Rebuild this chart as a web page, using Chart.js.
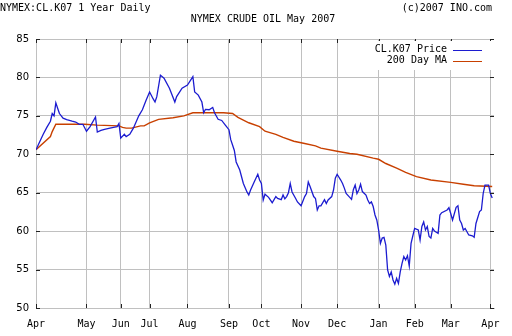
<!DOCTYPE html>
<html lang="en">
<head>
    <meta charset="UTF-8">
    <title>NYMEX CRUDE OIL May 2007</title>
    <script src="https://cdn.jsdelivr.net/npm/chart.js"></script>
    <style>
        body { margin: 0; padding: 0; background: #fff; }
        #chart { display: block; }
    </style>
</head>
<body>
    <canvas id="chart" width="512" height="336"></canvas>

    <script>
        // month ticks, by trading day
        const monthLabels = ['Apr', 'May', 'Jun', 'Jul', 'Aug', 'Sep', 'Oct', 'Nov', 'Dec', 'Jan', 'Feb', 'Mar', 'Apr'];
        const monthDays = [0, 28, 47, 63, 84, 107, 125, 147, 167, 190, 210, 230, 252];

        // price axis
        const yMin = 50;
        const yMax = 85;
        const yStep = 5;

        // CL.K07 daily price (trading day, value)
        const priceDays = [0, 2, 4, 6, 8, 9, 10, 11, 12, 13, 15, 17, 20, 22, 24, 26, 28, 30, 33, 34, 36, 38, 41, 43, 45, 46, 47, 49, 50, 52,
            54, 57, 59, 61, 63, 65, 66, 67, 69, 71, 74, 77, 78, 81, 84, 87, 88, 90, 92, 93, 94, 96, 98, 99, 101, 103, 105, 107, 108, 109,
            110, 111, 113, 115, 117, 118, 119, 121, 123, 124, 125, 126, 127, 129, 131, 133, 134, 136, 137, 138, 139, 140, 141, 142, 144, 145, 147, 149, 150, 151,
            152, 154, 155, 156, 157, 158, 160, 161, 162, 164, 165, 166, 167, 169, 170, 171, 172, 174, 175, 176, 177, 178, 179, 180, 181, 183, 184, 185, 186, 187,
            188, 189, 190, 191, 192, 193, 194, 195, 196, 197, 198, 199, 200, 201, 202, 203, 204, 205, 206, 207, 208, 209, 210, 212, 213, 214, 215, 216, 217, 218,
            219, 220, 221, 223, 224, 225, 228, 229, 230, 231, 233, 234, 235, 236, 237, 238, 240, 242, 243, 244, 246, 247, 248, 249, 251, 252, 253];
        const priceValues = [70.6, 71.6, 72.6, 73.5, 74.3, 75.3, 75.0, 76.7, 76.0, 75.3, 74.7, 74.5, 74.3, 74.2, 73.9, 73.9, 73.0, 73.6, 74.85, 72.9, 73.1, 73.25, 73.4, 73.5, 73.6, 74.0, 72.1, 72.6, 72.3, 72.6,
            73.4, 75.0, 75.8, 77.0, 78.1, 77.2, 76.8, 77.5, 80.3, 79.9, 78.6, 76.8, 77.5, 78.6, 79.0, 80.1, 78.1, 77.7, 76.8, 75.4, 75.85, 75.8, 76.1, 75.4, 74.55, 74.4, 73.8, 73.2, 71.9, 71.2,
            70.5, 69.0, 67.95, 66.2, 65.1, 64.7, 65.35, 66.4, 67.4, 66.65, 66.2, 64.05, 64.8, 64.4, 63.7, 64.5, 64.25, 64.1, 64.7, 64.2, 64.5, 65.0, 66.2, 65.1, 64.25, 63.8, 63.3, 64.5, 64.9, 66.4,
            65.8, 64.5, 64.25, 62.75, 63.3, 63.3, 64.1, 63.6, 64.05, 64.5, 65.35, 66.9, 67.4, 66.65, 66.2, 65.6, 64.9, 64.4, 64.15, 65.4, 66.0, 64.9, 65.35, 66.1, 65.15, 64.7, 64.05, 63.6, 63.8, 63.2,
            62.1, 61.45, 60.15, 58.4, 59.1, 59.2, 58.2, 54.95, 54.1, 54.7, 53.65, 53.1, 53.85, 53.2, 54.7, 55.8, 56.7, 56.25, 56.8, 55.45, 58.4, 59.4, 60.35, 60.15, 58.85, 60.6, 61.2, 60.15, 60.6, 59.3,
            59.1, 60.35, 60.0, 59.7, 62.1, 62.4, 62.75, 63.05, 62.3, 61.45, 63.1, 63.3, 61.45, 61.0, 60.15, 60.35, 59.5, 59.4, 59.2, 61.0, 62.55, 62.75, 64.9, 66.0, 66.0, 64.9, 64.3];

        // 200 day moving average
        const maDays = [0, 8, 9, 11, 27, 34, 46, 48, 50, 53, 58, 60, 63, 68, 76, 82, 87, 104, 109, 112, 118, 124, 127, 133, 137, 143, 149, 155, 158, 167,
            174, 178, 187, 190, 194, 200, 205, 211, 219, 230, 237, 243, 253];
        const maValues = [70.6, 72.3, 72.95, 73.9, 73.9, 73.8, 73.7, 73.5, 73.4, 73.4, 73.7, 73.7, 74.1, 74.55, 74.75, 75.0, 75.4, 75.4, 75.3, 74.8, 74.1, 73.6, 73.0, 72.6, 72.2, 71.7, 71.4, 71.1, 70.8, 70.4,
            70.1, 70.0, 69.5, 69.35, 68.8, 68.2, 67.65, 67.1, 66.65, 66.35, 66.1, 65.9, 65.8];

        const mono = '"DejaVu Sans Mono", monospace';

        // header texts
        const headerPlugin = {
            id: 'header',
            afterDraw(chart) {
                const ctx = chart.ctx;
                ctx.save();
                ctx.fillStyle = '#000';
                ctx.font = '10px ' + mono;
                ctx.textBaseline = 'middle';
                ctx.textAlign = 'left';
                ctx.fillText('NYMEX:CL.K07 1 Year Daily', 0, 8);
                ctx.textAlign = 'right';
                ctx.fillText('(c)2007 INO.com', 492, 8);
                ctx.textAlign = 'center';
                ctx.fillText('NYMEX CRUDE OIL May 2007', 263, 19);
                ctx.restore();
            }
        };

        // short dark tick marks inside the frame
        const tickMarkPlugin = {
            id: 'tickMarks',
            afterDatasetsDraw(chart) {
                const ctx = chart.ctx;
                const area = chart.chartArea;
                const xs = chart.scales.x;
                const ys = chart.scales.y;
                ctx.save();
                ctx.strokeStyle = '#222';
                ctx.lineWidth = 1;
                ctx.beginPath();
                ys.ticks.forEach(t => {
                    const y = Math.round(ys.getPixelForValue(t.value)) + 0.5;
                    ctx.moveTo(area.left, y);
                    ctx.lineTo(area.left + 4, y);
                    ctx.moveTo(area.right - 4, y);
                    ctx.lineTo(area.right, y);
                });
                xs.ticks.forEach(t => {
                    const x = Math.round(xs.getPixelForValue(t.value)) + 0.5;
                    ctx.moveTo(x, area.bottom);
                    ctx.lineTo(x, area.bottom - 4);
                    ctx.moveTo(x, area.top);
                    ctx.lineTo(x, area.top + 4);
                });
                ctx.stroke();
                ctx.restore();
            }
        };

        // legend: label text, then line sample to its right
        const legendPlugin = {
            id: 'lineLegend',
            afterDatasetsDraw(chart) {
                const ctx = chart.ctx;
                const area = chart.chartArea;
                ctx.save();
                ctx.fillStyle = '#fff';
                ctx.fillRect(area.right - 124, area.top + 2, 121, 29);
                ctx.font = '10px ' + mono;
                ctx.textAlign = 'right';
                ctx.textBaseline = 'middle';
                chart.data.datasets.forEach((ds, i) => {
                    const y = area.top + 10.5 + i * 11;
                    ctx.fillStyle = '#000';
                    ctx.fillText(ds.label, area.right - 47, y);
                    ctx.strokeStyle = ds.borderColor;
                    ctx.lineWidth = 1;
                    ctx.beginPath();
                    ctx.moveTo(area.right - 41, Math.round(y) + 0.5);
                    ctx.lineTo(area.right - 12, Math.round(y) + 0.5);
                    ctx.stroke();
                });
                ctx.restore();
            }
        };

        new Chart(document.getElementById('chart'), {
            type: 'line',
            data: {
                datasets: [
                    {
                        label: 'CL.K07 Price',
                        data: priceDays.map((d, i) => ({ x: d, y: priceValues[i] })),
                        borderColor: '#1c1cd0',
                        borderWidth: 1.3,
                        pointRadius: 0,
                        tension: 0
                    },
                    {
                        label: '200 Day MA',
                        data: maDays.map((d, i) => ({ x: d, y: maValues[i] })),
                        borderColor: '#c84000',
                        borderWidth: 1.4,
                        pointRadius: 0,
                        tension: 0
                    }
                ]
            },
            options: {
                responsive: false,
                animation: false,
                devicePixelRatio: 1,
                layout: { padding: { top: 39, right: 18, left: 0, bottom: 0 } },
                plugins: {
                    legend: { display: false },
                    tooltip: { enabled: false }
                },
                scales: {
                    x: {
                        type: 'linear',
                        min: 0,
                        max: 254,
                        afterBuildTicks: scale => {
                            scale.ticks = monthDays.map(d => ({ value: d }));
                        },
                        afterFit: scale => { scale.height = 28; },
                        grid: { color: '#c0c0c0', drawTicks: false },
                        border: { color: '#c0c0c0' },
                        ticks: {
                            autoSkip: false,
                            maxRotation: 0,
                            padding: 10,
                            color: '#000',
                            font: { family: mono, size: 10 },
                            callback: (value, index) => monthLabels[index]
                        }
                    },
                    y: {
                        min: yMin,
                        max: yMax,
                        afterFit: scale => { scale.width = 36; },
                        grid: { color: '#c0c0c0', drawTicks: false },
                        border: { color: '#c0c0c0' },
                        ticks: {
                            stepSize: yStep,
                            padding: 7,
                            color: '#000',
                            font: { family: '"DejaVu Sans", sans-serif', size: 10 }
                        }
                    }
                }
            },
            plugins: [headerPlugin, tickMarkPlugin, legendPlugin]
        });
    </script>
</body>
</html>
